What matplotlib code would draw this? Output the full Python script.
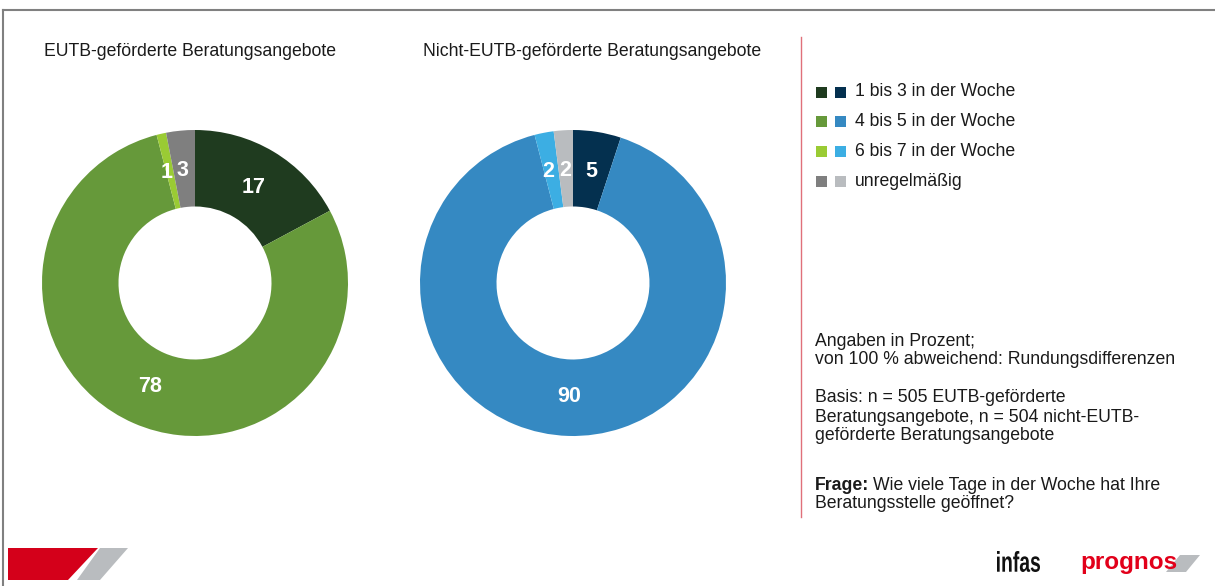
import numpy as np
import matplotlib.pyplot as plt
from matplotlib.patches import Polygon, PathPatch
from matplotlib.textpath import TextPath
from matplotlib.font_manager import FontProperties
from matplotlib.transforms import Affine2D

plt.rcParams['font.family'] = ['Liberation Sans', 'DejaVu Sans']

categories = ["1 bis 3 in der Woche", "4 bis 5 in der Woche",
              "6 bis 7 in der Woche", "unregelmäßig"]
eutb_values = [17, 78, 1, 3]
nicht_eutb_values = [5, 90, 2, 2]
eutb_colors = ["#1f3b1f", "#66993a", "#9acb34", "#7f7f7f"]
nicht_colors = ["#04304f", "#3589c2", "#3caee3", "#b9bcbf"]

W, H = 1215, 586
FS = 12.7
TXT = "#1a1a1a"
fig = plt.figure(figsize=(W / 100, H / 100), dpi=100)

# background canvas in pixel coords
bg = fig.add_axes([0, 0, 1, 1])
bg.set_xlim(0, W)
bg.set_ylim(H, 0)
bg.axis("off")

# frame lines
bg.plot([3, W], [10, 10], color="#808080", lw=1.5)
bg.plot([3, 3], [10, H], color="#808080", lw=1.5)
# red separator
bg.plot([801, 801], [37, 517], color="#e0707a", lw=1)

# titles
bg.text(44, 52, "EUTB-geförderte Beratungsangebote", fontsize=FS,
        va="center", ha="left", color=TXT)
bg.text(423, 52, "Nicht-EUTB-geförderte Beratungsangebote", fontsize=FS,
        va="center", ha="left", color=TXT)


def donut(cx, values, colors):
    r_px = 153
    ax = fig.add_axes([(cx - r_px) / W, 1 - (283 + r_px) / H,
                       2 * r_px / W, 2 * r_px / H])
    wedges, _ = ax.pie(values, colors=colors, startangle=90, counterclock=False,
                       wedgeprops=dict(width=0.5, edgecolor="none"))
    ax.set_xlim(-1, 1)
    ax.set_ylim(-1, 1)
    ax.set_aspect("auto")
    return ax, wedges


def label_wedges(ax, wedges, values, offsets):
    for w, v, (dx, dy) in zip(wedges, values, offsets):
        ang = np.deg2rad((w.theta1 + w.theta2) / 2)
        x = 0.74 * np.cos(ang) + dx
        y = 0.74 * np.sin(ang) + dy
        ax.text(x, y, str(v), ha="center", va="center", color="white",
                fontsize=15.5, fontweight="bold")


ax1, w1 = donut(195, eutb_values, eutb_colors)
label_wedges(ax1, w1, eutb_values, [(0, -0.01), (0, 0), (-0.025, 0.0), (-0.01, 0.0)])
ax2, w2 = donut(573, nicht_eutb_values, nicht_colors)
label_wedges(ax2, w2, nicht_eutb_values, [(0.0, 0), (0, 0), (-0.02, 0), (-0.005, 0)])

# legend
for i, lab in enumerate(categories):
    y = 92 + i * 29.7
    bg.add_patch(plt.Rectangle((816, y - 5.5), 11, 11, color=eutb_colors[i], lw=0))
    bg.add_patch(plt.Rectangle((835, y - 5.5), 11, 11, color=nicht_colors[i], lw=0))
    bg.text(855, y, lab, fontsize=FS, va="center", ha="left", color=TXT)

# notes
notes = [
    (341, "Angaben in Prozent;"),
    (359, "von 100 % abweichend: Rundungsdifferenzen"),
    (398, "Basis: n = 505 EUTB-geförderte"),
    (417, "Beratungsangebote, n = 504 nicht-EUTB-"),
    (436, "geförderte Beratungsangebote"),
]
for y, t in notes:
    bg.text(815, y, t, fontsize=FS, va="center", ha="left", color=TXT)
bg.text(815, 485, "Frage:", fontsize=FS, va="center", ha="left",
        color=TXT, fontweight="bold")
bg.text(873, 485, "Wie viele Tage in der Woche hat Ihre", fontsize=FS,
        va="center", ha="left", color=TXT)
bg.text(815, 504, "Beratungsstelle geöffnet?", fontsize=FS, va="center",
        ha="left", color=TXT)

# bottom logos
bg.add_patch(Polygon([(8, 548), (98, 548), (68, 580), (8, 580)],
                     closed=True, color="#d4001a", lw=0))
bg.add_patch(Polygon([(100, 548), (128, 548), (100, 580), (77, 580)],
                     closed=True, color="#b9bcbf", lw=0))

# condensed "infas" wordmark
tp = TextPath((0, 0), "infas", size=20,
              prop=FontProperties(family="Liberation Sans", weight="bold"))
ext = tp.get_extents()
sx = 43 / ext.width
sy = 21 / ext.height
tr = Affine2D().translate(-ext.x0, -ext.y0).scale(sx, -sy).translate(997, 572)
bg.add_patch(PathPatch(tr.transform_path(tp), color="#111111", lw=0))

bg.add_patch(Polygon([(1180, 555), (1200, 555), (1186, 572), (1166, 572)],
                     closed=True, color="#b9bcbf", lw=0))
bg.text(1129, 562, "prognos", fontsize=17.5, fontweight="bold", ha="center",
        va="center", color="#e2001a")

fig.savefig("out.png", dpi=100)
